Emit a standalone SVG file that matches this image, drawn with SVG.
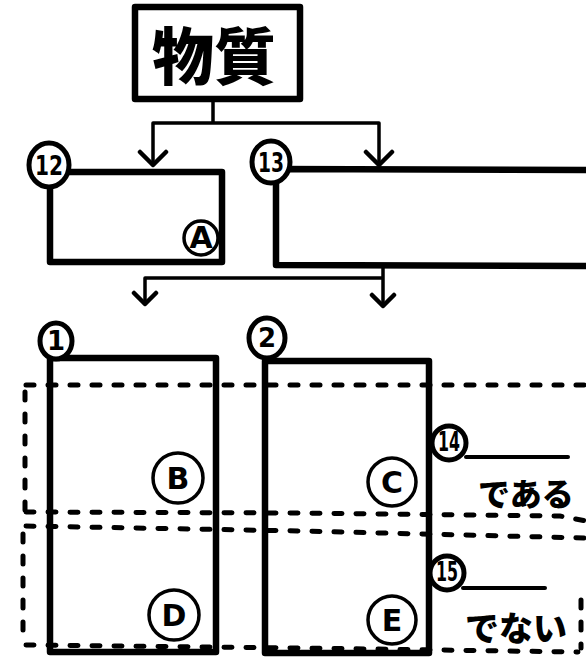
<svg xmlns="http://www.w3.org/2000/svg" width="586" height="659" viewBox="0 0 586 659">
<defs>
<style>
.box{fill:none;stroke:#000;stroke-width:6.5;stroke-linejoin:round;stroke-linecap:round}
.conn{fill:none;stroke:#000;stroke-width:3.5;stroke-linejoin:round;stroke-linecap:round}
.head{fill:none;stroke:#000;stroke-width:4.5;stroke-linejoin:round;stroke-linecap:round}
.dash{fill:none;stroke:#000;stroke-width:5;stroke-dasharray:8 14;stroke-linecap:round}
.lead{fill:none;stroke:#000;stroke-width:4;stroke-linecap:round}
.badge{fill:#fff;stroke:#000;stroke-width:5}
.mark{fill:#fff;stroke:#000;stroke-width:3.5}
.num{font-family:"DejaVu Sans",sans-serif;font-weight:bold;font-size:26px;text-anchor:middle;fill:#000}
.let{font-family:"DejaVu Sans",sans-serif;font-weight:bold;font-size:30px;text-anchor:middle;fill:#000}
.jp{font-family:"Noto Sans CJK JP",sans-serif;font-weight:900;fill:#000}
</style>
</defs>
<rect width="586" height="659" fill="#fff"/>
<g id="regions">
<path class="dash" d="M26,385 L590,385 M25,392 L25,510 M26,512 L300,513 L560,516 L586,521"/>
<path class="dash" d="M26,526 L300,531 L586,538 M23,534 L23,644 M26,645 L300,648 L578,652 M581,600 L581,648"/>
</g>
<g id="connectors">
<path class="conn" d="M213,100 L213,123 M153,165 L153,123 L379,123 L379,165"/>
<path class="head" d="M140,152 L153,165 L166,152 M366,152 L379,165 L392,152"/>
<path class="conn" d="M383,265 L383,278 M145,304 L145,278 L383,278 L383,306"/>
<path class="head" d="M134,293 L145,304 L156,293 M372,295 L383,306 L394,295"/>
</g>
<g id="title">
<rect class="box" x="135" y="7" width="165" height="92"/>
<text class="jp" x="214" y="80" font-size="62" text-anchor="middle">物質</text>
</g>
<g id="node12">
<rect class="box" x="50" y="172" width="172" height="90"/>
<ellipse class="badge" cx="49" cy="165" rx="20" ry="22"/>
<text class="num" x="49" y="175" textLength="28" lengthAdjust="spacingAndGlyphs">12</text>
<circle class="mark" cx="201" cy="238" r="17"/>
<text class="let" x="201" y="248" font-size="26">A</text>
</g>
<g id="node13">
<path class="box" d="M600,170 L276,169 L276,265 L600,266"/>
<ellipse class="badge" cx="271" cy="162" rx="19" ry="21"/>
<text class="num" x="271" y="172" textLength="26" lengthAdjust="spacingAndGlyphs">13</text>
</g>
<g id="node1">
<rect class="box" x="50" y="358" width="166" height="294"/>
<ellipse class="badge" cx="56" cy="341" rx="16" ry="18"/>
<text class="num" x="56" y="350">1</text>
<circle class="mark" cx="178" cy="478" r="25"/>
<text class="let" x="178" y="489">B</text>
<circle class="mark" cx="174" cy="615" r="25"/>
<text class="let" x="174" y="626">D</text>
</g>
<g id="node2">
<rect class="box" x="265" y="361" width="164" height="292"/>
<ellipse class="badge" cx="267" cy="338" rx="18" ry="20"/>
<text class="num" x="267" y="347">2</text>
<circle class="mark" cx="392" cy="482" r="24"/>
<text class="let" x="392" y="493">C</text>
<circle class="mark" cx="392" cy="620" r="24"/>
<text class="let" x="392" y="631">E</text>
</g>
<g id="label14">
<path class="lead" d="M466,457 L568,457"/>
<circle class="badge" cx="449" cy="443" r="17"/>
<text class="num" x="449" y="451" font-size="19" textLength="22" lengthAdjust="spacingAndGlyphs">14</text>
<text class="jp" x="478" y="506" font-size="32">である</text>
</g>
<g id="label15">
<path class="lead" d="M463,588 L545,588"/>
<circle class="badge" cx="447" cy="573" r="17"/>
<text class="num" x="447" y="581" font-size="19" textLength="22" lengthAdjust="spacingAndGlyphs">15</text>
<text class="jp" x="465" y="641" font-size="34">でない</text>
</g>
</svg>
